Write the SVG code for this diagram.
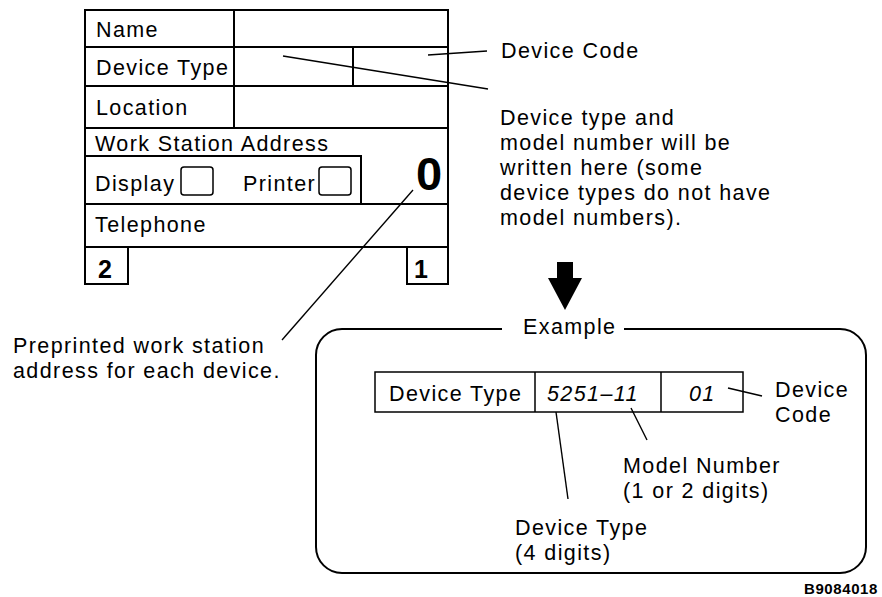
<svg xmlns="http://www.w3.org/2000/svg" width="882" height="597" viewBox="0 0 882 597">
<style>
.t{font-family:"Liberation Sans",Arial,Helvetica,sans-serif;font-size:21.5px;letter-spacing:1.4px;fill:#000}
.b{font-weight:bold}
.i{font-style:italic}
.ln{stroke:#000;stroke-width:2;fill:none}
.thin{stroke:#000;stroke-width:1.5;fill:none}
.ld{stroke:#000;stroke-width:1.4;fill:none}
</style>
<rect width="882" height="597" fill="#fff"/>
<g id="form">
  <rect class="ln" x="85" y="10" width="363" height="237"/>
  <path class="ln" d="M85,47H448M85,86H448M85,128H448M234,10V128M353,47V86M85,156H361V204M85,204H448"/>
  <rect class="thin" x="181" y="167" width="32" height="28" rx="3"/>
  <rect class="thin" x="319" y="167" width="32" height="28" rx="3"/>
  <path class="ln" d="M85,247V284H128V247M407,247V284H448V247"/>
  <text class="t" x="96" y="37">Name</text>
  <text class="t" x="96" y="75">Device Type</text>
  <text class="t" x="96" y="115">Location</text>
  <text class="t" x="95" y="151">Work Station Address</text>
  <text class="t" x="95" y="191">Display</text>
  <text class="t" x="243" y="191">Printer</text>
  <text class="t" x="95" y="232">Telephone</text>
  <text class="t b" x="416" y="190" style="font-size:47px;letter-spacing:0">0</text>
  <text class="t b" x="105" y="278" text-anchor="middle" style="font-size:25px;letter-spacing:0">2</text>
  <text class="t b" x="421" y="278" text-anchor="middle" style="font-size:25px;letter-spacing:0">1</text>
</g>
<g id="device-code-note">
  <text class="t" x="501" y="58">Device Code</text>
</g>
<g id="device-type-note">
  <text class="t" x="500" y="125">Device type and</text>
  <text class="t" x="500" y="150">model number will be</text>
  <text class="t" x="500" y="175">written here (some</text>
  <text class="t" x="500" y="200">device types do not have</text>
  <text class="t" x="500" y="225">model numbers).</text>
</g>
<g id="preprinted-note">
  <text class="t" x="13" y="353">Preprinted work station</text>
  <text class="t" x="13" y="378">address for each device.</text>
</g>
<g id="arrow">
  <polygon points="557,262 573,262 573,278 582,278 565,310 548,278 557,278" fill="#000"/>
</g>
<g id="example">
  <path class="ln" d="M502,329H342A26,26 0 0 0 316,355V547A26,26 0 0 0 342,573H840A26,26 0 0 0 866,547V355A26,26 0 0 0 840,329H624"/>
  <text class="t" x="523" y="334">Example</text>
  <rect class="thin" x="375" y="372" width="368" height="40"/>
  <path class="thin" d="M535,372V412M661,372V412"/>
  <text class="t" x="389" y="401">Device Type</text>
  <text class="t i" x="547" y="401">5251–11</text>
  <text class="t i" x="689" y="401">01</text>
  <text class="t" x="775" y="397">Device</text>
  <text class="t" x="775" y="422">Code</text>
  <text class="t" x="623" y="473">Model Number</text>
  <text class="t" x="623" y="498">(1 or 2 digits)</text>
  <text class="t" x="515" y="535">Device Type</text>
  <text class="t" x="515" y="560">(4 digits)</text>
</g>
<g id="connectors">
  <line class="ld" x1="428" y1="55" x2="487" y2="51"/>
  <line class="ld" x1="283" y1="56" x2="488" y2="89"/>
  <line class="ld" x1="413" y1="190" x2="282" y2="340"/>
  <line class="ld" x1="728" y1="388" x2="762" y2="396"/>
  <line class="ld" x1="631" y1="408" x2="647" y2="440"/>
  <line class="ld" x1="556" y1="412" x2="568" y2="499"/>
</g>
<text class="t b" x="878" y="594" text-anchor="end" style="font-size:15px;letter-spacing:0.6px">B9084018</text>
</svg>
